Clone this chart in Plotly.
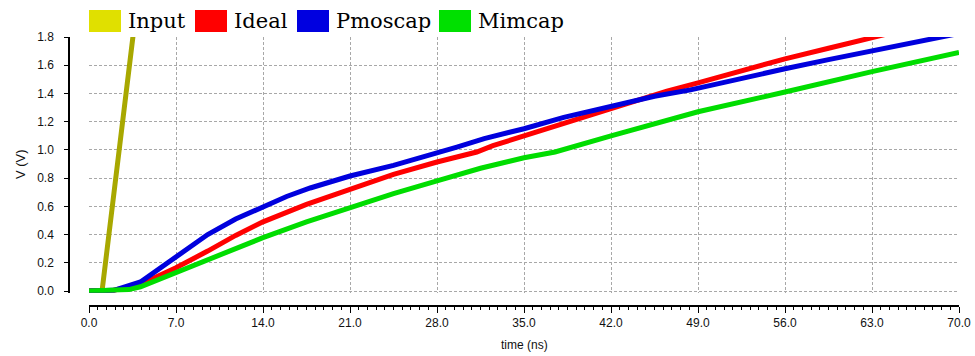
import plotly.graph_objects as go

# ---- data ----
t_input = [0, 1.05, 5.6, 70]
v_input = [0, 0, 3.3, 3.3]

t_ideal = [0, 2, 4.14, 7, 9.55, 11.8, 14, 17.5, 21, 24.5, 28, 31.2, 32.5, 35, 38.2, 42,
           46.5, 49, 52.5, 56, 59.5, 63, 66]
v_ideal = [0, 0.005, 0.047, 0.165, 0.283, 0.394, 0.49, 0.614, 0.72, 0.826, 0.914, 0.985,
           1.03, 1.10, 1.19, 1.30, 1.417, 1.475, 1.56, 1.645, 1.72, 1.79, 1.86]

t_pmos = [0, 2, 4.14, 5.73, 7, 9.55, 11.8, 14, 15.9, 17.8, 21, 24.5, 28, 29.6, 31.8, 35,
          38.2, 42, 45.5, 48.4, 52, 56, 59.5, 63, 66.5, 70]
v_pmos = [0, 0.005, 0.064, 0.165, 0.24, 0.40, 0.51, 0.60, 0.67, 0.73, 0.815, 0.89, 0.975,
          1.02, 1.08, 1.15, 1.23, 1.31, 1.38, 1.425, 1.50, 1.575, 1.64, 1.70, 1.765, 1.825]

t_mim = [0, 2, 3.2, 4.14, 7, 9.55, 14, 17.5, 21, 24.5, 28, 31.5, 35, 37.5, 42, 49, 56, 63, 70]
v_mim = [0, 0.003, 0.01, 0.03, 0.13, 0.224, 0.378, 0.49, 0.59, 0.69, 0.78, 0.87, 0.944,
         0.985, 1.10, 1.27, 1.41, 1.555, 1.69]

series_names = ["Input", "Ideal", "Pmoscap", "Mimcap"]
line_colors = ["#a8a800", "#ff0000", "#0000dd", "#00dd00"]
legend_colors = ["#e0e000", "#ff0000", "#0000e0", "#00e000"]

x_ticks = [0, 7, 14, 21, 28, 35, 42, 49, 56, 63, 70]
y_ticks = [0, 0.2, 0.4, 0.6, 0.8, 1.0, 1.2, 1.4, 1.6, 1.8]

# ---- layout geometry (pixels) ----
W, H = 975, 356
ML, MR, MT, MB = 69, 16, 37, 50
PW = W - ML - MR
PH = H - MT - MB


def px_x(p):
    return (p - ML) / PW


def px_y(p):
    return (H - MB - p) / PH


fig = go.Figure()
data = [(t_input, v_input), (t_ideal, v_ideal), (t_pmos, v_pmos), (t_mim, v_mim)]
for (tx, vy), name, col in zip(data, series_names, line_colors):
    fig.add_trace(go.Scatter(x=tx, y=vy, mode="lines", name=name,
                             line=dict(color=col, width=5), showlegend=False))

grid = dict(showgrid=True, gridcolor="#a8a8a8", gridwidth=1, griddash="3px,2px",
            zeroline=False, automargin=False)
tickfont = dict(family="Liberation Sans, Arial, sans-serif", size=12, color="#111")

fig.update_layout(
    width=W, height=H,
    margin=dict(l=ML, r=MR, t=MT, b=MB, autoexpand=False),
    paper_bgcolor="white", plot_bgcolor="white",
    showlegend=False,
    xaxis=dict(domain=[px_x(89), 1], anchor="free", position=0,
               range=[0, 70], tickvals=x_ticks, tickformat=".1f",
               ticks="outside", ticklen=6, tickwidth=1, tickcolor="black",
               showline=True, linecolor="black", linewidth=1.5,
               minor=dict(dtick=0.7, tick0=0, ticks="outside", ticklen=3,
                          tickcolor="black", showgrid=False),
               tickfont=tickfont, **grid),
    yaxis=dict(domain=[px_y(292.7), 1], anchor="free", position=0,
               range=[-0.012, 1.8], tickvals=y_ticks, tickformat=".1f",
               ticks="outside", ticklen=4, tickwidth=1, tickcolor="black",
               showline=True, linecolor="black", linewidth=1.5,
               ticklabelstandoff=8,
               tickfont=tickfont, **grid),
)

# axis titles
fig.add_annotation(text="time (ns)", xref="paper", yref="paper",
                   x=(px_x(89) + 1) / 2, y=px_y(345), showarrow=False,
                   font=dict(family="Liberation Sans, Arial, sans-serif", size=12, color="#111"),
                   xanchor="center", yanchor="middle")
fig.add_annotation(text="V (V)", xref="paper", yref="paper",
                   x=px_x(20), y=px_y(164), showarrow=False, textangle=-90,
                   font=dict(family="Liberation Sans, Arial, sans-serif", size=13, color="#111"),
                   xanchor="center", yanchor="middle")

# custom legend (coloured boxes + serif labels)
box_left = [89, 195, 297, 439]
for bx, name, col in zip(box_left, series_names, legend_colors):
    fig.add_shape(type="rect", xref="paper", yref="paper",
                  x0=px_x(bx), x1=px_x(bx + 32), y0=px_y(32), y1=px_y(10),
                  fillcolor=col, line=dict(width=0))
    fig.add_annotation(text=name, xref="paper", yref="paper",
                       x=px_x(bx + 37), y=px_y(21), showarrow=False,
                       xanchor="left", yanchor="middle",
                       font=dict(family="DejaVu Serif, serif", size=21, color="black"))

fig.write_html("out.html")
